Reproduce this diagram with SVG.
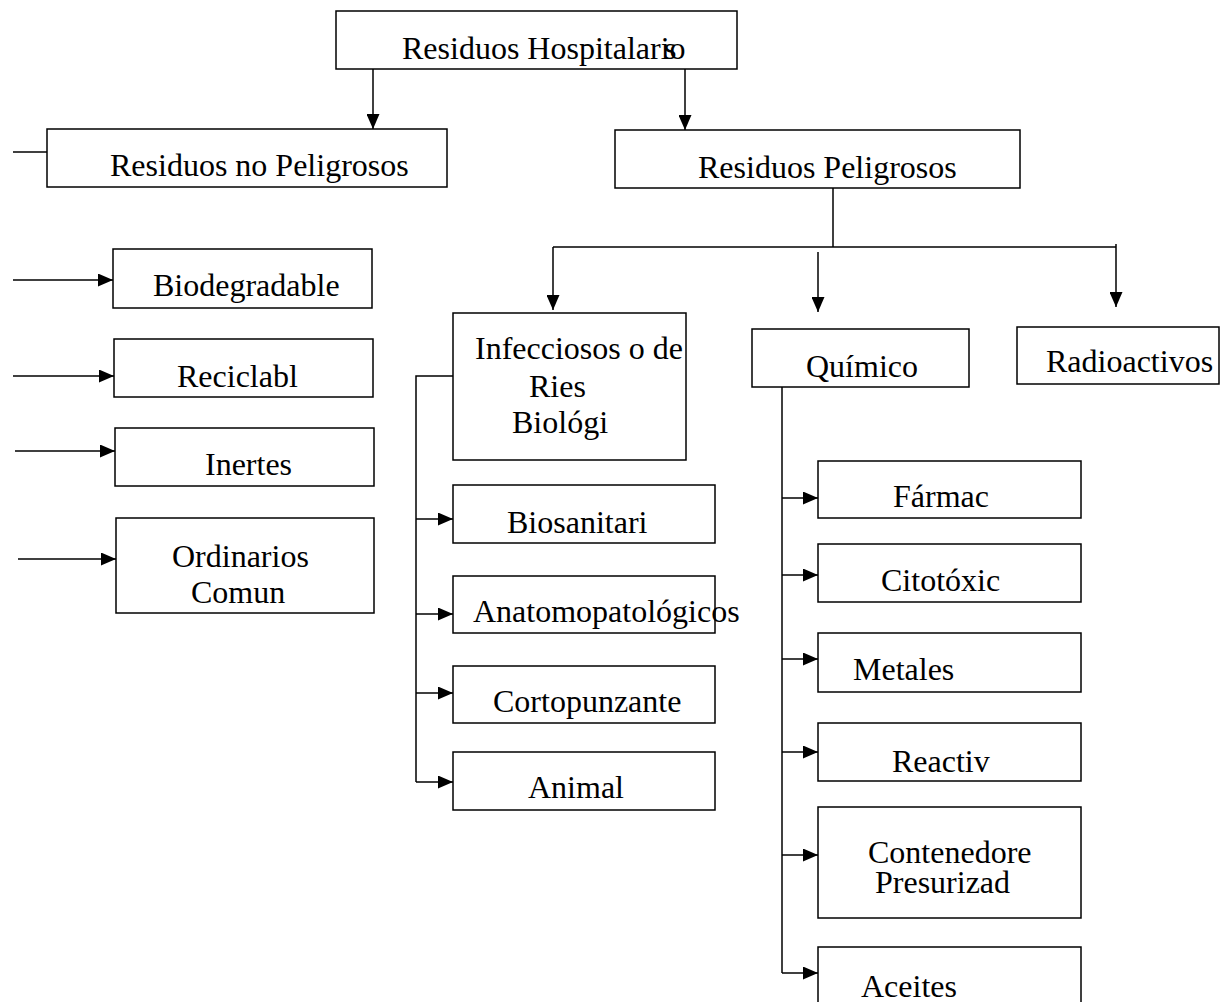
<svg xmlns="http://www.w3.org/2000/svg" width="1222" height="1002" viewBox="0 0 1222 1002">
<style>
.n rect{fill:#fff;stroke:#000;stroke-width:1.5}
text{font-family:"Liberation Serif","Times New Roman",serif;font-size:32px;fill:#000}
.c line,.c path{stroke:#000;stroke-width:1.5;fill:none}
</style>
<defs>
<marker id="ah" markerUnits="userSpaceOnUse" markerWidth="15" markerHeight="13" refX="15" refY="6.5" orient="auto">
<path d="M0,0 L15,6.5 L0,13 z" fill="#000"/>
</marker>
</defs>
<rect width="1222" height="1002" fill="#fff"/>
<g class="c" id="connectors">
<line x1="373" y1="69" x2="373" y2="129" marker-end="url(#ah)"/>
<line x1="685" y1="67" x2="685" y2="130" marker-end="url(#ah)"/>
<line x1="13" y1="152" x2="47" y2="152"/>
<line x1="13" y1="280" x2="113" y2="280" marker-end="url(#ah)"/>
<line x1="13" y1="376" x2="114" y2="376" marker-end="url(#ah)"/>
<line x1="15" y1="451" x2="115" y2="451" marker-end="url(#ah)"/>
<line x1="18" y1="559" x2="116" y2="559" marker-end="url(#ah)"/>
<line x1="833" y1="188" x2="833" y2="247"/>
<line x1="553" y1="247" x2="1116" y2="247"/>
<line x1="553" y1="247" x2="553" y2="310" marker-end="url(#ah)"/>
<line x1="818" y1="252" x2="818" y2="312" marker-end="url(#ah)"/>
<line x1="1116" y1="244" x2="1116" y2="307" marker-end="url(#ah)"/>
<path d="M453,376 H416 V782"/>
<line x1="416" y1="519" x2="453" y2="519" marker-end="url(#ah)"/>
<line x1="416" y1="614" x2="453" y2="614" marker-end="url(#ah)"/>
<line x1="416" y1="693" x2="453" y2="693" marker-end="url(#ah)"/>
<line x1="416" y1="782" x2="453" y2="782" marker-end="url(#ah)"/>
<line x1="782" y1="387" x2="782" y2="973"/>
<line x1="782" y1="498" x2="818" y2="498" marker-end="url(#ah)"/>
<line x1="782" y1="575" x2="818" y2="575" marker-end="url(#ah)"/>
<line x1="782" y1="659" x2="818" y2="659" marker-end="url(#ah)"/>
<line x1="782" y1="752" x2="818" y2="752" marker-end="url(#ah)"/>
<line x1="782" y1="855" x2="818" y2="855" marker-end="url(#ah)"/>
<line x1="782" y1="973" x2="818" y2="973" marker-end="url(#ah)"/>
</g>
<g class="n" id="n-hosp"><rect x="336" y="11" width="401" height="58"/><text x="402" y="59">Residuos Hospitalario<tspan x="664">s</tspan></text></g>
<g class="n" id="n-nopel"><rect x="47" y="129" width="400" height="58"/><text x="110" y="176">Residuos no Peligrosos</text></g>
<g class="n" id="n-pel"><rect x="615" y="130" width="405" height="58"/><text x="698" y="178">Residuos Peligrosos</text></g>
<g class="n" id="n-biodeg"><rect x="113" y="249" width="259" height="59"/><text x="153" y="296">Biodegradable</text></g>
<g class="n" id="n-recic"><rect x="114" y="339" width="259" height="58"/><text x="177" y="387">Reciclabl</text></g>
<g class="n" id="n-inert"><rect x="115" y="428" width="259" height="58"/><text x="205" y="475">Inertes</text></g>
<g class="n" id="n-ord"><rect x="116" y="518" width="258" height="95"/><text x="172" y="567">Ordinarios</text><text x="191" y="603">Comun</text></g>
<g class="n" id="n-infec"><rect x="453" y="313" width="233" height="147"/><text x="475" y="359">Infecciosos o de</text><text x="529" y="397">Ries</text><text x="512" y="433">Biológi</text></g>
<g class="n" id="n-quim"><rect x="752" y="329" width="217" height="58"/><text x="806" y="377">Químico</text></g>
<g class="n" id="n-radio"><rect x="1017" y="327" width="202" height="57"/><text x="1046" y="372">Radioactivos</text></g>
<g class="n" id="n-biosan"><rect x="453" y="485" width="262" height="58"/><text x="507" y="533">Biosanitari</text></g>
<g class="n" id="n-anato"><rect x="453" y="576" width="262" height="57"/><text x="473" y="622">Anatomopatológicos</text></g>
<g class="n" id="n-corto"><rect x="453" y="666" width="262" height="57"/><text x="493" y="712">Cortopunzante</text></g>
<g class="n" id="n-animal"><rect x="453" y="752" width="262" height="58"/><text x="528" y="798">Animal</text></g>
<g class="n" id="n-farm"><rect x="818" y="461" width="263" height="57"/><text x="893" y="507">Fármac</text></g>
<g class="n" id="n-cito"><rect x="818" y="544" width="263" height="58"/><text x="881" y="591">Citotóxic</text></g>
<g class="n" id="n-metal"><rect x="818" y="633" width="263" height="59"/><text x="853" y="680">Metales</text></g>
<g class="n" id="n-react"><rect x="818" y="723" width="263" height="58"/><text x="892" y="772">Reactiv</text></g>
<g class="n" id="n-cont"><rect x="818" y="807" width="263" height="111"/><text x="868" y="863">Contenedore</text><text x="875" y="893">Presurizad</text></g>
<g class="n" id="n-aceit"><rect x="818" y="947" width="263" height="70"/><text x="861" y="997">Aceites</text></g>
</svg>
